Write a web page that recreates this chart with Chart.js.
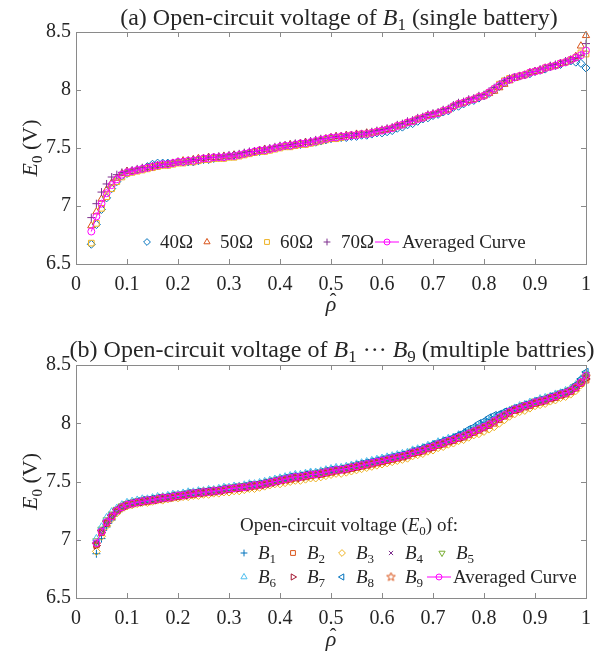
<!DOCTYPE html>
<html>
<head>
<meta charset="utf-8">
<script src="https://cdn.jsdelivr.net/npm/chart.js@4.4.1/dist/chart.umd.min.js"></script>
<style>
  html, body { margin: 0; padding: 0; background: #fff; }
  #wrap { position: relative; width: 609px; height: 651px; }
  .box { position: absolute; left: 0; width: 609px; }
</style>
</head>
<body>
<div id="wrap">
  <div class="box" style="top:0;height:318px"><canvas id="chartA"></canvas></div>
  <div class="box" style="top:318px;height:333px"><canvas id="chartB"></canvas></div>
</div>
<script>
// ---- data: (a) single battery, four load resistances ----
const rhoA = [0.03,0.04,0.05,0.06,0.07,0.08,0.09,0.10,0.11,0.12,
  0.13,0.14,0.15,0.16,0.17,0.18,0.19,0.20,0.21,0.22,
  0.23,0.24,0.25,0.26,0.27,0.28,0.29,0.30,0.31,0.32,
  0.33,0.34,0.35,0.36,0.37,0.38,0.39,0.40,0.41,0.42,
  0.43,0.44,0.45,0.46,0.47,0.48,0.49,0.50,0.51,0.52,
  0.53,0.54,0.55,0.56,0.57,0.58,0.59,0.60,0.61,0.62,
  0.63,0.64,0.65,0.66,0.67,0.68,0.69,0.70,0.71,0.72,
  0.73,0.74,0.75,0.76,0.77,0.78,0.79,0.80,0.81,0.82,
  0.83,0.84,0.85,0.86,0.87,0.88,0.89,0.90,0.91,0.92,
  0.93,0.94,0.95,0.96,0.97,0.98,0.99,1.00];

const e40 = [6.67,6.84,6.97,7.07,7.15,7.21,7.26,7.28,7.30,7.31,
  7.32,7.34,7.36,7.37,7.37,7.37,7.37,7.38,7.38,7.38,
  7.38,7.39,7.40,7.40,7.41,7.42,7.42,7.43,7.44,7.44,
  7.45,7.46,7.47,7.47,7.48,7.49,7.50,7.51,7.52,7.52,
  7.53,7.53,7.54,7.55,7.55,7.56,7.57,7.58,7.59,7.59,
  7.59,7.60,7.60,7.61,7.61,7.62,7.63,7.63,7.64,7.65,
  7.67,7.68,7.70,7.71,7.73,7.75,7.76,7.78,7.79,7.81,
  7.82,7.85,7.86,7.88,7.90,7.91,7.93,7.95,7.97,8.00,
  8.03,8.06,8.09,8.11,8.12,8.13,8.14,8.16,8.17,8.18,
  8.20,8.21,8.22,8.24,8.25,8.24,8.23,8.19];
const e50 = [6.83,6.95,7.06,7.14,7.20,7.24,7.28,7.30,7.30,7.31,
  7.32,7.33,7.34,7.35,7.35,7.36,7.37,7.38,7.39,7.39,
  7.40,7.41,7.41,7.42,7.42,7.42,7.43,7.43,7.44,7.44,
  7.45,7.46,7.47,7.48,7.49,7.49,7.50,7.51,7.52,7.53,
  7.53,7.54,7.55,7.55,7.56,7.57,7.58,7.59,7.60,7.60,
  7.61,7.61,7.62,7.62,7.63,7.63,7.64,7.65,7.66,7.67,
  7.69,7.70,7.72,7.73,7.75,7.76,7.78,7.79,7.80,7.82,
  7.83,7.86,7.88,7.89,7.91,7.92,7.94,7.95,7.97,7.99,
  8.02,8.05,8.08,8.10,8.12,8.13,8.15,8.16,8.17,8.19,
  8.20,8.21,8.23,8.24,8.26,8.29,8.38,8.47];
const e60 = [6.68,6.85,6.98,7.08,7.15,7.21,7.25,7.28,7.29,7.30,
  7.31,7.32,7.33,7.34,7.35,7.35,7.36,7.37,7.37,7.38,
  7.38,7.39,7.40,7.40,7.41,7.41,7.41,7.42,7.42,7.43,
  7.44,7.45,7.46,7.47,7.47,7.48,7.49,7.50,7.51,7.51,
  7.52,7.53,7.53,7.54,7.55,7.56,7.57,7.58,7.58,7.59,
  7.60,7.61,7.61,7.62,7.62,7.63,7.64,7.65,7.66,7.67,
  7.69,7.70,7.72,7.73,7.75,7.76,7.78,7.79,7.80,7.82,
  7.83,7.86,7.88,7.89,7.91,7.92,7.94,7.95,7.98,8.01,
  8.05,8.08,8.10,8.11,8.12,8.13,8.15,8.16,8.17,8.19,
  8.20,8.21,8.23,8.24,8.26,8.28,8.32,8.31];
const e70 = [6.90,7.02,7.12,7.19,7.25,7.27,7.29,7.30,7.31,7.32,
  7.33,7.33,7.34,7.35,7.36,7.36,7.37,7.38,7.38,7.39,
  7.40,7.40,7.41,7.42,7.42,7.43,7.43,7.44,7.44,7.45,
  7.46,7.47,7.47,7.48,7.49,7.50,7.51,7.52,7.52,7.53,
  7.54,7.54,7.55,7.56,7.57,7.58,7.58,7.59,7.60,7.60,
  7.61,7.61,7.62,7.62,7.63,7.64,7.65,7.66,7.67,7.68,
  7.70,7.71,7.73,7.74,7.76,7.77,7.79,7.80,7.81,7.83,
  7.84,7.87,7.89,7.90,7.92,7.93,7.95,7.96,7.99,8.02,
  8.05,8.08,8.10,8.11,8.12,8.13,8.15,8.16,8.18,8.19,
  8.21,8.22,8.23,8.25,8.26,8.28,8.30,8.40];
const eAvgA = [6.78,6.91,7.02,7.11,7.18,7.23,7.27,7.29,7.30,7.31,
  7.32,7.33,7.34,7.35,7.36,7.36,7.37,7.38,7.38,7.39,
  7.39,7.40,7.41,7.41,7.42,7.42,7.42,7.43,7.43,7.44,
  7.45,7.46,7.47,7.48,7.48,7.49,7.50,7.51,7.52,7.52,
  7.53,7.54,7.54,7.55,7.56,7.57,7.58,7.59,7.59,7.60,
  7.60,7.61,7.61,7.62,7.62,7.63,7.64,7.65,7.66,7.67,
  7.69,7.70,7.72,7.73,7.75,7.76,7.78,7.79,7.80,7.82,
  7.83,7.86,7.88,7.89,7.91,7.92,7.94,7.95,7.98,8.01,
  8.04,8.07,8.09,8.11,8.12,8.13,8.15,8.16,8.17,8.19,
  8.20,8.21,8.23,8.24,8.26,8.28,8.30,8.34];
const labelsA = ['40Ω', '50Ω', '60Ω', '70Ω', 'Averaged Curve'];

// ---- data: (b) batteries B1..B9 ----
const rhoB = [0.04,0.05,0.06,0.07,0.08,0.09,0.10,0.11,0.12,0.13,
  0.14,0.15,0.16,0.17,0.18,0.19,0.20,0.21,0.22,0.23,
  0.24,0.25,0.26,0.27,0.28,0.29,0.30,0.31,0.32,0.33,
  0.34,0.35,0.36,0.37,0.38,0.39,0.40,0.41,0.42,0.43,
  0.44,0.45,0.46,0.47,0.48,0.49,0.50,0.51,0.52,0.53,
  0.54,0.55,0.56,0.57,0.58,0.59,0.60,0.61,0.62,0.63,
  0.64,0.65,0.66,0.67,0.68,0.69,0.70,0.71,0.72,0.73,
  0.74,0.75,0.76,0.77,0.78,0.79,0.80,0.81,0.82,0.83,
  0.84,0.85,0.86,0.87,0.88,0.89,0.90,0.91,0.92,0.93,
  0.94,0.95,0.96,0.97,0.98,0.99,1.00];

const b1 = [6.88,7.01,7.11,7.17,7.23,7.27,7.29,7.31,7.32,7.33,
  7.34,7.35,7.35,7.36,7.37,7.38,7.38,7.39,7.40,7.40,
  7.41,7.41,7.42,7.42,7.43,7.44,7.44,7.45,7.45,7.46,
  7.47,7.47,7.48,7.49,7.50,7.51,7.52,7.53,7.54,7.55,
  7.55,7.56,7.57,7.57,7.58,7.59,7.60,7.61,7.61,7.62,
  7.63,7.64,7.65,7.66,7.67,7.68,7.69,7.70,7.71,7.72,
  7.73,7.74,7.76,7.77,7.79,7.80,7.82,7.83,7.85,7.86,
  7.88,7.90,7.92,7.94,7.96,7.98,8.01,8.03,8.05,8.07,
  8.09,8.11,8.13,8.14,8.16,8.17,8.19,8.20,8.21,8.23,
  8.24,8.26,8.27,8.29,8.32,8.36,8.40];
const b2 = [6.96,7.06,7.14,7.20,7.25,7.28,7.30,7.31,7.32,7.33,
  7.33,7.34,7.35,7.35,7.36,7.37,7.37,7.38,7.39,7.39,
  7.40,7.40,7.41,7.41,7.42,7.43,7.43,7.44,7.44,7.45,
  7.46,7.46,7.47,7.48,7.49,7.50,7.51,7.52,7.52,7.53,
  7.54,7.54,7.55,7.56,7.56,7.57,7.58,7.59,7.60,7.60,
  7.61,7.62,7.63,7.64,7.65,7.66,7.67,7.68,7.69,7.70,
  7.71,7.72,7.74,7.75,7.76,7.78,7.79,7.81,7.82,7.84,
  7.85,7.87,7.88,7.90,7.92,7.94,7.96,7.98,8.00,8.03,
  8.06,8.08,8.11,8.12,8.14,8.15,8.17,8.18,8.19,8.21,
  8.22,8.24,8.25,8.27,8.30,8.34,8.37];
const b3 = [6.90,7.03,7.12,7.18,7.23,7.27,7.29,7.30,7.31,7.32,
  7.32,7.33,7.34,7.34,7.35,7.36,7.36,7.37,7.37,7.38,
  7.38,7.39,7.39,7.40,7.40,7.41,7.41,7.42,7.42,7.43,
  7.44,7.44,7.45,7.46,7.47,7.48,7.48,7.49,7.50,7.51,
  7.51,7.52,7.53,7.53,7.54,7.55,7.56,7.57,7.57,7.58,
  7.59,7.60,7.61,7.62,7.63,7.64,7.65,7.66,7.67,7.68,
  7.69,7.70,7.72,7.73,7.74,7.76,7.77,7.79,7.80,7.82,
  7.83,7.85,7.86,7.88,7.90,7.91,7.93,7.95,7.97,8.00,
  8.03,8.06,8.08,8.10,8.11,8.13,8.15,8.16,8.17,8.19,
  8.20,8.22,8.23,8.25,8.28,8.33,8.38];
const b4 = [6.98,7.08,7.15,7.21,7.25,7.28,7.30,7.31,7.32,7.33,
  7.34,7.34,7.35,7.36,7.36,7.37,7.38,7.38,7.39,7.40,
  7.40,7.41,7.41,7.42,7.42,7.43,7.44,7.44,7.45,7.45,
  7.46,7.47,7.47,7.48,7.49,7.50,7.51,7.52,7.53,7.54,
  7.54,7.55,7.56,7.56,7.57,7.58,7.59,7.60,7.60,7.61,
  7.62,7.63,7.64,7.65,7.66,7.67,7.68,7.69,7.70,7.71,
  7.72,7.73,7.75,7.76,7.77,7.79,7.80,7.82,7.83,7.85,
  7.86,7.88,7.89,7.91,7.93,7.95,7.97,7.99,8.02,8.05,
  8.07,8.10,8.12,8.13,8.15,8.16,8.18,8.19,8.20,8.22,
  8.23,8.25,8.26,8.28,8.31,8.35,8.41];
const b5 = [6.99,7.09,7.17,7.22,7.26,7.29,7.31,7.32,7.33,7.34,
  7.35,7.35,7.36,7.37,7.37,7.38,7.39,7.39,7.40,7.41,
  7.41,7.42,7.42,7.43,7.43,7.44,7.45,7.45,7.46,7.46,
  7.47,7.48,7.48,7.49,7.50,7.51,7.52,7.53,7.54,7.55,
  7.55,7.56,7.57,7.57,7.58,7.59,7.60,7.61,7.61,7.62,
  7.63,7.64,7.65,7.66,7.67,7.68,7.69,7.70,7.71,7.72,
  7.73,7.74,7.76,7.77,7.78,7.80,7.81,7.83,7.84,7.86,
  7.87,7.89,7.90,7.92,7.94,7.96,7.98,8.00,8.03,8.06,
  8.08,8.11,8.13,8.14,8.16,8.17,8.19,8.20,8.21,8.23,
  8.24,8.26,8.27,8.29,8.32,8.36,8.42];
const b6 = [7.01,7.11,7.19,7.24,7.27,7.30,7.32,7.33,7.34,7.35,
  7.35,7.36,7.37,7.37,7.38,7.39,7.39,7.40,7.41,7.41,
  7.42,7.42,7.43,7.43,7.44,7.45,7.45,7.46,7.46,7.47,
  7.48,7.48,7.49,7.50,7.51,7.52,7.53,7.54,7.55,7.56,
  7.56,7.57,7.58,7.58,7.59,7.60,7.61,7.62,7.62,7.63,
  7.64,7.65,7.66,7.67,7.68,7.69,7.70,7.71,7.72,7.73,
  7.74,7.75,7.77,7.78,7.79,7.81,7.82,7.84,7.85,7.87,
  7.88,7.90,7.91,7.93,7.95,7.97,7.99,8.02,8.04,8.07,
  8.09,8.11,8.13,8.15,8.16,8.18,8.19,8.21,8.22,8.23,
  8.25,8.26,8.28,8.30,8.33,8.38,8.43];
const b7 = [6.95,7.06,7.14,7.20,7.24,7.27,7.29,7.31,7.32,7.32,
  7.33,7.34,7.34,7.35,7.36,7.36,7.37,7.38,7.38,7.39,
  7.40,7.40,7.41,7.41,7.42,7.42,7.43,7.44,7.44,7.45,
  7.45,7.46,7.47,7.47,7.48,7.49,7.50,7.51,7.52,7.53,
  7.53,7.54,7.55,7.56,7.56,7.57,7.58,7.59,7.60,7.60,
  7.61,7.62,7.63,7.64,7.65,7.66,7.67,7.68,7.69,7.70,
  7.71,7.72,7.74,7.75,7.76,7.78,7.79,7.81,7.82,7.84,
  7.85,7.87,7.88,7.90,7.92,7.94,7.96,7.98,8.01,8.04,
  8.06,8.09,8.11,8.12,8.14,8.15,8.17,8.18,8.19,8.21,
  8.22,8.24,8.25,8.27,8.30,8.34,8.38];
const b8 = [6.97,7.08,7.16,7.21,7.26,7.29,7.31,7.32,7.33,7.34,
  7.34,7.35,7.36,7.36,7.37,7.38,7.38,7.39,7.40,7.40,
  7.41,7.41,7.42,7.42,7.43,7.44,7.44,7.45,7.45,7.46,
  7.47,7.47,7.48,7.49,7.50,7.51,7.52,7.53,7.54,7.54,
  7.55,7.56,7.56,7.57,7.58,7.59,7.60,7.60,7.61,7.62,
  7.63,7.64,7.65,7.66,7.67,7.68,7.69,7.70,7.71,7.72,
  7.73,7.74,7.76,7.77,7.79,7.80,7.82,7.83,7.85,7.86,
  7.88,7.90,7.92,7.95,7.97,8.00,8.02,8.05,8.07,8.08,
  8.10,8.11,8.13,8.14,8.16,8.17,8.19,8.20,8.21,8.23,
  8.24,8.26,8.27,8.29,8.33,8.38,8.44];
const b9 = [6.96,7.07,7.15,7.20,7.25,7.28,7.30,7.31,7.32,7.33,
  7.33,7.34,7.35,7.36,7.36,7.37,7.37,7.38,7.39,7.39,
  7.40,7.41,7.41,7.42,7.42,7.43,7.43,7.44,7.45,7.45,
  7.46,7.46,7.47,7.48,7.49,7.50,7.51,7.51,7.52,7.53,
  7.54,7.55,7.55,7.56,7.57,7.58,7.58,7.59,7.60,7.61,
  7.62,7.63,7.64,7.64,7.65,7.66,7.67,7.68,7.69,7.70,
  7.71,7.73,7.74,7.75,7.77,7.78,7.80,7.81,7.83,7.84,
  7.86,7.87,7.89,7.91,7.93,7.94,7.96,7.99,8.01,8.04,
  8.07,8.09,8.11,8.13,8.14,8.16,8.17,8.19,8.20,8.21,
  8.23,8.24,8.26,8.28,8.31,8.35,8.40];
const eAvgB = [6.97,7.07,7.15,7.20,7.25,7.28,7.30,7.31,7.32,7.33,
  7.34,7.34,7.35,7.36,7.36,7.37,7.38,7.38,7.39,7.40,
  7.40,7.41,7.41,7.42,7.42,7.43,7.44,7.44,7.45,7.45,
  7.46,7.47,7.47,7.48,7.49,7.50,7.51,7.52,7.53,7.54,
  7.54,7.55,7.56,7.56,7.57,7.58,7.59,7.60,7.60,7.61,
  7.62,7.63,7.64,7.65,7.66,7.67,7.68,7.69,7.70,7.71,
  7.72,7.73,7.75,7.76,7.77,7.79,7.80,7.82,7.83,7.85,
  7.86,7.88,7.89,7.91,7.93,7.95,7.97,7.99,8.02,8.05,
  8.07,8.10,8.12,8.13,8.15,8.16,8.18,8.19,8.20,8.22,
  8.23,8.25,8.26,8.28,8.31,8.35,8.41];
const labelsB = ['1', '2', '3', '4', '5', '6', '7', '8', '9', 'Averaged Curve'];

// axis tick labels
const xTickLabels = ['0', '0.1', '0.2', '0.3', '0.4', '0.5', '0.6', '0.7', '0.8', '0.9', '1'];
const yTickLabels = ['6.5', '7', '7.5', '8', '8.5'];

// ---- styles ----
const FONT = '"Liberation Serif", "Times New Roman", serif';
const AXIS = '#8a8a8a';
const TXT = '#262626';
const CLEAR = 'rgba(0,0,0,0)';

function pentagram(color, r) {
    const c = document.createElement('canvas');
    const s = Math.ceil(r * 2 + 2);
    c.width = s; c.height = s;
    const g = c.getContext('2d');
    g.strokeStyle = color;
    g.lineWidth = 1;
    g.beginPath();
    for (let k = 0; k < 10; k++) {
        const rr = k % 2 ? r * 0.42 : r;
        const ang = -Math.PI / 2 + k * Math.PI / 5;
        const px = s / 2 + rr * Math.cos(ang), py = s / 2 + rr * Math.sin(ang);
        if (k) g.lineTo(px, py); else g.moveTo(px, py);
    }
    g.closePath();
    g.stroke();
    return c;
}

const stylesA = [
    { color: '#0072BD', shape: 'rectRot', r: 4 },
    { color: '#D95319', shape: 'triangle', r: 4.2 },
    { color: '#EDB120', shape: 'rect', r: 4 },
    { color: '#7E2F8E', shape: 'cross', r: 4 },
    { color: '#FF00FF', shape: 'circle', r: 3.5, line: true }
];
const stylesB = [
    { color: '#0072BD', shape: 'cross', r: 4 },
    { color: '#D95319', shape: 'rect', r: 4 },
    { color: '#EDB120', shape: 'rectRot', r: 4 },
    { color: '#7E2F8E', shape: 'crossRot', r: 3.5 },
    { color: '#77AC30', shape: 'triangle', r: 4.2, rot: 180 },
    { color: '#4DBEEE', shape: 'triangle', r: 4.2 },
    { color: '#A2142F', shape: 'triangle', r: 4.2, rot: 90 },
    { color: '#0072BD', shape: 'triangle', r: 4.2, rot: 270 },
    { color: '#D95319', shape: pentagram('#D95319', 4.5), r: 4.5 },
    { color: '#FF00FF', shape: 'circle', r: 3.5, line: true }
];

function makeSet(label, rho, vals, st, order) {
    return {
        label: label,
        data: rho.map((r, i) => ({ x: r, y: vals[i] })),
        showLine: !!st.line,
        borderColor: st.color,
        borderWidth: 1,
        backgroundColor: CLEAR,
        pointStyle: st.shape,
        pointRadius: st.r,
        pointRotation: st.rot || 0,
        pointBorderWidth: 1,
        pointBorderColor: st.color,
        pointBackgroundColor: CLEAR,
        tension: 0,
        order: order,
        clip: false
    };
}

// ---- rich text (italic / subscript) ----
function setFont(ctx, size, italic) {
    ctx.font = (italic ? 'italic ' : '') + size + 'px ' + FONT;
}
function partSize(k, size) { return k === 's' ? Math.round(size * 0.7) : size; }
function measureRich(ctx, parts, size) {
    let w = 0;
    parts.forEach(([t, k]) => { setFont(ctx, partSize(k, size), k === 'i'); w += ctx.measureText(t).width; });
    return w;
}
function drawRich(ctx, parts, x, y, size, align) {
    const w = measureRich(ctx, parts, size);
    let cx = align === 'center' ? x - w / 2 : (align === 'right' ? x - w : x);
    ctx.textAlign = 'left';
    ctx.textBaseline = 'alphabetic';
    parts.forEach(([t, k]) => {
        setFont(ctx, partSize(k, size), k === 'i');
        ctx.fillText(t, cx, k === 's' ? y + size * 0.22 : y);
        cx += ctx.measureText(t).width;
    });
}

// frame, inward ticks, titles and legend
const decor = {
    id: 'decor',
    afterDraw(chart, args, o) {
        const ctx = chart.ctx, a = chart.chartArea;
        const xs = chart.scales.x, ys = chart.scales.y;
        ctx.save();
        ctx.strokeStyle = AXIS;
        ctx.lineWidth = 1;
        ctx.strokeRect(a.left + 0.5, a.top + 0.5, a.right - a.left, a.bottom - a.top);
        ctx.beginPath();
        xs.ticks.forEach(t => {
            const px = Math.round(xs.getPixelForValue(t.value)) + 0.5;
            ctx.moveTo(px, a.bottom); ctx.lineTo(px, a.bottom - 5);
            ctx.moveTo(px, a.top); ctx.lineTo(px, a.top + 5);
        });
        ys.ticks.forEach(t => {
            const py = Math.round(ys.getPixelForValue(t.value)) + 0.5;
            ctx.moveTo(a.left, py); ctx.lineTo(a.left + 5, py);
            ctx.moveTo(a.right, py); ctx.lineTo(a.right - 5, py);
        });
        ctx.stroke();

        ctx.fillStyle = TXT;
        drawRich(ctx, o.title, o.titleX, o.titleY, 24, 'center');

        // y label
        ctx.save();
        ctx.translate(o.yLabelX, (a.top + a.bottom) / 2);
        ctx.rotate(-Math.PI / 2);
        drawRich(ctx, [['E', 'i'], ['0', 's'], [' (V)', 'n']], 0, 0, 22, 'center');
        ctx.restore();

        // x label: rho hat
        const cxl = (a.left + a.right) / 2;
        setFont(ctx, 22, true);
        ctx.textAlign = 'center';
        ctx.textBaseline = 'alphabetic';
        ctx.fillText('ρ', cxl, o.xLabelY);
        setFont(ctx, 20, false);
        ctx.fillText('ˆ', cxl + 2, o.xLabelY - 3);

        // legend
        const L = o.legend;
        if (L.head) drawRich(ctx, L.head.parts, L.head.x, L.head.y, L.size, 'left');
        L.items.forEach(it => {
            const ds = chart.data.datasets[it.ds];
            ctx.strokeStyle = ds.pointBorderColor;
            ctx.fillStyle = CLEAR;
            ctx.lineWidth = 1;
            if (ds.showLine) {
                ctx.beginPath();
                ctx.moveTo(it.mx - 12, it.y); ctx.lineTo(it.mx + 12, it.y);
                ctx.stroke();
            }
            Chart.helpers.drawPoint(ctx, {
                pointStyle: ds.pointStyle, radius: ds.pointRadius * 0.85,
                rotation: ds.pointRotation, borderWidth: 1
            }, it.mx, it.y);
            ctx.fillStyle = TXT;
            drawRich(ctx, it.text, it.tx, it.y + 6, L.size, 'left');
        });
        ctx.restore();
    }
};

function scaleOpts(xHeight) {
    return {
        x: {
            type: 'linear', min: 0, max: 1,
            grid: { display: false, drawTicks: false },
            border: { display: false },
            ticks: {
                stepSize: 0.1, padding: 9, color: TXT, autoSkip: false, maxRotation: 0,
                font: { family: FONT, size: 20 },
                callback: (v, i) => xTickLabels[i]
            },
            afterFit: s => { s.height = xHeight; }
        },
        y: {
            type: 'linear', min: 6.5, max: 8.5,
            grid: { display: false, drawTicks: false },
            border: { display: false },
            ticks: {
                stepSize: 0.5, padding: 5, color: TXT,
                font: { family: FONT, size: 20 },
                callback: (v, i) => yTickLabels[i]
            },
            afterFit: s => { s.width = 76; }
        }
    };
}

const setsA = [e40, e50, e60, e70, eAvgA].map((v, k) =>
    makeSet(labelsA[k], rhoA, v, stylesA[k], 5 - k));
const setsB = [b1, b2, b3, b4, b5, b6, b7, b8, b9, eAvgB].map((v, k) =>
    makeSet(labelsB[k], rhoB, v, stylesB[k], 10 - k));

new Chart(document.getElementById('chartA'), {
    type: 'scatter',
    data: { datasets: setsA },
    options: {
        responsive: true, maintainAspectRatio: false, animation: false, events: [],
        layout: { padding: { top: 32, right: 23, left: 0, bottom: 0 } },
        scales: scaleOpts(54),
        plugins: {
            legend: { display: false }, tooltip: { enabled: false },
            decor: {
                title: [['(a) Open-circuit voltage of ', 'n'], ['B', 'i'], ['1', 's'], [' (single battery)', 'n']],
                titleX: 339, titleY: 25, yLabelX: 37, xLabelY: 311,
                legend: {
                    size: 19,
                    items: [
                        { ds: 0, mx: 147, tx: 160, y: 242, text: [[labelsA[0], 'n']] },
                        { ds: 1, mx: 207, tx: 220, y: 242, text: [[labelsA[1], 'n']] },
                        { ds: 2, mx: 267, tx: 280, y: 242, text: [[labelsA[2], 'n']] },
                        { ds: 3, mx: 327, tx: 341, y: 242, text: [[labelsA[3], 'n']] },
                        { ds: 4, mx: 387, tx: 402, y: 242, text: [[labelsA[4], 'n']] }
                    ]
                }
            }
        }
    },
    plugins: [decor]
});

const bx = [244, 293, 342, 391, 442];
new Chart(document.getElementById('chartB'), {
    type: 'scatter',
    data: { datasets: setsB },
    options: {
        responsive: true, maintainAspectRatio: false, animation: false, events: [],
        layout: { padding: { top: 47, right: 23, left: 0, bottom: 0 } },
        scales: scaleOpts(53),
        plugins: {
            legend: { display: false }, tooltip: { enabled: false },
            decor: {
                title: [['(b) Open-circuit voltage of ', 'n'], ['B', 'i'], ['1', 's'], [' ··· ', 'n'], ['B', 'i'], ['9', 's'], [' (multiple battries)', 'n']],
                titleX: 332, titleY: 39, yLabelX: 37, xLabelY: 328,
                legend: {
                    size: 19,
                    head: { x: 240, y: 213, parts: [['Open-circuit voltage (', 'n'], ['E', 'i'], ['0', 's'], [') of:', 'n']] },
                    items: labelsB.map((lb, k) => {
                        const row = k < 5 ? 0 : 1;
                        const col = k % 5;
                        const y = row ? 259 : 235;
                        if (k === 9) return { ds: 9, mx: 439, tx: 453, y: y, text: [[lb, 'n']] };
                        return { ds: k, mx: bx[col], tx: bx[col] + 14, y: y, text: [['B', 'i'], [lb, 's']] };
                    })
                }
            }
        }
    },
    plugins: [decor]
});
</script>
</body>
</html>
